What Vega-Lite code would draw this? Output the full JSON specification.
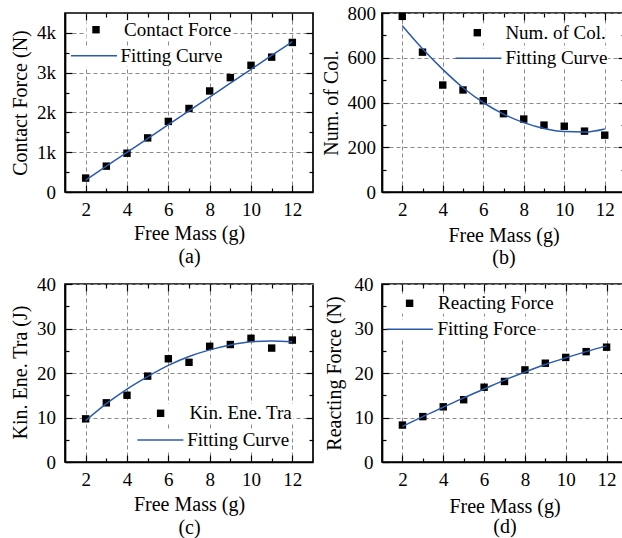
{
  "$schema": "https://vega.github.io/schema/vega-lite/v6.json",
  "background": "white",
  "padding": {"left": 9, "top": 3, "right": 0, "bottom": 0},
  "columns": 2,
  "spacing": {"column": 69, "row": 92},
  "bounds": "flush",
  "datasets": {
    "contact": [
      {"m": 2, "v": 350, "s": "Contact Force"}, {"m": 3, "v": 650, "s": "Contact Force"},
      {"m": 4, "v": 975, "s": "Contact Force"}, {"m": 5, "v": 1360, "s": "Contact Force"},
      {"m": 6, "v": 1775, "s": "Contact Force"}, {"m": 7, "v": 2100, "s": "Contact Force"},
      {"m": 8, "v": 2540, "s": "Contact Force"}, {"m": 9, "v": 2875, "s": "Contact Force"},
      {"m": 10, "v": 3185, "s": "Contact Force"}, {"m": 11, "v": 3390, "s": "Contact Force"},
      {"m": 12, "v": 3760, "s": "Contact Force"}
    ],
    "contactFit": [
      {"m": 2, "v": 300, "s": "Fitting Curve"}, {"m": 3, "v": 648, "s": "Fitting Curve"},
      {"m": 4, "v": 996, "s": "Fitting Curve"}, {"m": 5, "v": 1344, "s": "Fitting Curve"},
      {"m": 6, "v": 1692, "s": "Fitting Curve"}, {"m": 7, "v": 2040, "s": "Fitting Curve"},
      {"m": 8, "v": 2388, "s": "Fitting Curve"}, {"m": 9, "v": 2736, "s": "Fitting Curve"},
      {"m": 10, "v": 3084, "s": "Fitting Curve"}, {"m": 11, "v": 3432, "s": "Fitting Curve"},
      {"m": 12, "v": 3780, "s": "Fitting Curve"}
    ],
    "collisions": [
      {"m": 2, "v": 785, "s": "Num. of Col."}, {"m": 3, "v": 625, "s": "Num. of Col."},
      {"m": 4, "v": 478, "s": "Num. of Col."}, {"m": 5, "v": 456, "s": "Num. of Col."},
      {"m": 6, "v": 408, "s": "Num. of Col."}, {"m": 7, "v": 350, "s": "Num. of Col."},
      {"m": 8, "v": 326, "s": "Num. of Col."}, {"m": 9, "v": 299, "s": "Num. of Col."},
      {"m": 10, "v": 294, "s": "Num. of Col."}, {"m": 11, "v": 272, "s": "Num. of Col."},
      {"m": 12, "v": 254, "s": "Num. of Col."}
    ],
    "collisionsFit": [
      {"m": 2, "v": 743, "s": "Fitting Curve"}, {"m": 3, "v": 640, "s": "Fitting Curve"},
      {"m": 4, "v": 548, "s": "Fitting Curve"}, {"m": 5, "v": 466, "s": "Fitting Curve"},
      {"m": 6, "v": 400, "s": "Fitting Curve"}, {"m": 7, "v": 348, "s": "Fitting Curve"},
      {"m": 8, "v": 310, "s": "Fitting Curve"}, {"m": 9, "v": 284, "s": "Fitting Curve"},
      {"m": 10, "v": 270, "s": "Fitting Curve"}, {"m": 11, "v": 268, "s": "Fitting Curve"},
      {"m": 12, "v": 282, "s": "Fitting Curve"}
    ],
    "kinetic": [
      {"m": 2, "v": 9.7, "s": "Kin. Ene. Tra"}, {"m": 3, "v": 13.3, "s": "Kin. Ene. Tra"},
      {"m": 4, "v": 15.0, "s": "Kin. Ene. Tra"}, {"m": 5, "v": 19.3, "s": "Kin. Ene. Tra"},
      {"m": 6, "v": 23.2, "s": "Kin. Ene. Tra"}, {"m": 7, "v": 22.4, "s": "Kin. Ene. Tra"},
      {"m": 8, "v": 26.0, "s": "Kin. Ene. Tra"}, {"m": 9, "v": 26.4, "s": "Kin. Ene. Tra"},
      {"m": 10, "v": 27.8, "s": "Kin. Ene. Tra"}, {"m": 11, "v": 25.6, "s": "Kin. Ene. Tra"},
      {"m": 12, "v": 27.4, "s": "Kin. Ene. Tra"}
    ],
    "kineticFit": [
      {"m": 2, "v": 9.3, "s": "Fitting Curve"}, {"m": 3, "v": 13.1, "s": "Fitting Curve"},
      {"m": 4, "v": 16.4, "s": "Fitting Curve"}, {"m": 5, "v": 19.2, "s": "Fitting Curve"},
      {"m": 6, "v": 21.7, "s": "Fitting Curve"}, {"m": 7, "v": 23.7, "s": "Fitting Curve"},
      {"m": 8, "v": 25.2, "s": "Fitting Curve"}, {"m": 9, "v": 26.3, "s": "Fitting Curve"},
      {"m": 10, "v": 27.0, "s": "Fitting Curve"}, {"m": 11, "v": 27.2, "s": "Fitting Curve"},
      {"m": 12, "v": 27.0, "s": "Fitting Curve"}
    ],
    "reacting": [
      {"m": 2, "v": 8.3, "s": "Reacting Force"}, {"m": 3, "v": 10.2, "s": "Reacting Force"},
      {"m": 4, "v": 12.4, "s": "Reacting Force"}, {"m": 5, "v": 14.0, "s": "Reacting Force"},
      {"m": 6, "v": 16.8, "s": "Reacting Force"}, {"m": 7, "v": 18.1, "s": "Reacting Force"},
      {"m": 8, "v": 20.7, "s": "Reacting Force"}, {"m": 9, "v": 22.2, "s": "Reacting Force"},
      {"m": 10, "v": 23.5, "s": "Reacting Force"}, {"m": 11, "v": 24.8, "s": "Reacting Force"},
      {"m": 12, "v": 25.8, "s": "Reacting Force"}
    ],
    "reactingFit": [
      {"m": 2, "v": 8.0, "s": "Fitting Force"}, {"m": 3, "v": 10.2, "s": "Fitting Force"},
      {"m": 4, "v": 12.3, "s": "Fitting Force"}, {"m": 5, "v": 14.4, "s": "Fitting Force"},
      {"m": 6, "v": 16.4, "s": "Fitting Force"}, {"m": 7, "v": 18.4, "s": "Fitting Force"},
      {"m": 8, "v": 20.2, "s": "Fitting Force"}, {"m": 9, "v": 21.9, "s": "Fitting Force"},
      {"m": 10, "v": 23.4, "s": "Fitting Force"}, {"m": 11, "v": 24.8, "s": "Fitting Force"},
      {"m": 12, "v": 26.1, "s": "Fitting Force"}
    ]
  },
  "concat": [
    {
      "width": 248,
      "height": 179,
      "layer": [
        {
          "data": {"name": "contact"},
          "mark": {"type": "point", "shape": "square", "filled": true, "color": "black", "size": 55, "opacity": 1},
          "encoding": {
            "x": {"field": "m", "type": "quantitative", "scale": {"domain": [1, 13], "nice": false, "zero": false},
              "axis": {"orient": "bottom", "values": [2, 3, 4, 5, 6, 7, 8, 9, 10, 11, 12],
                "labelExpr": "datum.value % 2 === 0 ? datum.label : ''",
                "tickSize": {"condition": {"test": "datum.value % 2 === 0", "value": -7}, "value": -4},
                "grid": true, "gridOpacity": {"condition": {"test": "datum.value % 2 === 0", "value": 1}, "value": 0},
                "labelPadding": 15.4, "title": ["Free Mass (g)", "(a)"], "titleY": 41.3, "titleBaseline": "middle", "titleLineHeight": 23}},
            "y": {"field": "v", "type": "quantitative", "scale": {"domain": [0, 4500], "nice": false},
              "axis": {"orient": "left", "values": [0, 500, 1000, 1500, 2000, 2500, 3000, 3500, 4000],
                "labelExpr": "datum.value === 0 ? '0' : (datum.value % 1000 === 0 ? (datum.value / 1000) + 'k' : '')",
                "tickSize": {"condition": {"test": "datum.value % 1000 === 0", "value": -7}, "value": -4},
                "grid": true, "gridOpacity": {"condition": {"test": "datum.value % 1000 === 0", "value": 1}, "value": 0},
                "labelPadding": 16.5, "title": "Contact Force (N)", "titleX": -44.7, "titleY": 89.5, "titleBaseline": "middle"}},
            "shape": {"field": "s", "type": "nominal", "scale": {"range": ["square"]},
              "legend": {"title": null, "orient": "none", "legendX": 21.5, "legendY": 7.2, "symbolSize": 55, "symbolFillColor": "black", "symbolStrokeWidth": 0, "labelOffset": 18.6, "fillColor": "white", "padding": 0}}
          }
        },
        {
          "data": {"name": "contactFit"},
          "mark": {"type": "line", "strokeWidth": 1.5, "interpolate": "monotone"},
          "encoding": {
            "x": {"field": "m", "type": "quantitative",
              "axis": {"orient": "top", "values": [2, 3, 4, 5, 6, 7, 8, 9, 10, 11, 12], "labels": false, "grid": false, "domain": false, "title": null,
                "tickSize": {"condition": {"test": "datum.value % 2 === 0", "value": -7}, "value": -4}}},
            "y": {"field": "v", "type": "quantitative",
              "axis": {"orient": "right", "values": [500, 1000, 1500, 2000, 2500, 3000, 3500, 4000], "labels": false, "grid": false, "domain": false, "title": null,
                "tickSize": {"condition": {"test": "datum.value % 1000 === 0", "value": -7}, "value": -4}}},
            "stroke": {"field": "s", "type": "nominal", "scale": {"range": ["#2a5aab"]},
              "legend": {"title": null, "orient": "none", "legendX": 19.5, "legendY": 33.2, "symbolType": "M-5.75,0H5.75", "symbolSize": 64, "symbolStrokeWidth": 1.5, "labelOffset": 17, "fillColor": "white", "padding": 0}}
          }
        }
      ],
      "resolve": {"axis": {"x": "independent", "y": "independent"}}
    },
    {
      "width": 243,
      "height": 179,
      "layer": [
        {
          "data": {"name": "collisions"},
          "mark": {"type": "point", "shape": "square", "filled": true, "color": "black", "size": 55, "opacity": 1},
          "encoding": {
            "x": {"field": "m", "type": "quantitative", "scale": {"domain": [1, 13], "nice": false, "zero": false},
              "axis": {"orient": "bottom", "values": [2, 3, 4, 5, 6, 7, 8, 9, 10, 11, 12],
                "labelExpr": "datum.value % 2 === 0 ? datum.label : ''",
                "tickSize": {"condition": {"test": "datum.value % 2 === 0", "value": -7}, "value": -4},
                "grid": true, "gridOpacity": {"condition": {"test": "datum.value % 2 === 0", "value": 1}, "value": 0},
                "labelPadding": 15.4, "title": ["Free Mass (g)", "(b)"], "titleY": 43, "titleBaseline": "middle", "titleLineHeight": 22}},
            "y": {"field": "v", "type": "quantitative", "scale": {"domain": [0, 800], "nice": false},
              "axis": {"orient": "left", "values": [0, 100, 200, 300, 400, 500, 600, 700, 800],
                "labelExpr": "datum.value % 200 === 0 ? datum.label : ''",
                "tickSize": {"condition": {"test": "datum.value % 200 === 0", "value": -7}, "value": -4},
                "grid": true, "gridOpacity": {"condition": {"test": "datum.value % 200 === 0", "value": 1}, "value": 0},
                "labelPadding": 13.5, "title": "Num. of Col.", "titleX": -50.7, "titleY": 89.5, "titleBaseline": "middle"}},
            "shape": {"field": "s", "type": "nominal", "scale": {"range": ["square"]},
              "legend": {"title": null, "orient": "none", "legendX": 85.8, "legendY": 10.2, "symbolSize": 55, "symbolFillColor": "black", "symbolStrokeWidth": 0, "labelOffset": 18.6, "fillColor": "white", "padding": 0}}
          }
        },
        {
          "data": {"name": "collisionsFit"},
          "mark": {"type": "line", "strokeWidth": 1.5, "interpolate": "monotone"},
          "encoding": {
            "x": {"field": "m", "type": "quantitative",
              "axis": {"orient": "top", "values": [2, 3, 4, 5, 6, 7, 8, 9, 10, 11, 12], "labels": false, "grid": false, "domain": false, "title": null,
                "tickSize": {"condition": {"test": "datum.value % 2 === 0", "value": -7}, "value": -4}}},
            "y": {"field": "v", "type": "quantitative",
              "axis": {"orient": "right", "values": [100, 200, 300, 400, 500, 600, 700], "labels": false, "grid": false, "domain": false, "title": null,
                "tickSize": {"condition": {"test": "datum.value % 200 === 0", "value": -7}, "value": -4}}},
            "stroke": {"field": "s", "type": "nominal", "scale": {"range": ["#2a5aab"]},
              "legend": {"title": null, "orient": "none", "legendX": 86.9, "legendY": 35.8, "symbolType": "M-5.75,0H5.75", "symbolSize": 64, "symbolStrokeWidth": 1.5, "labelOffset": 17.6, "fillColor": "white", "padding": 0}}
          }
        }
      ],
      "resolve": {"axis": {"x": "independent", "y": "independent"}}
    },
    {
      "width": 248,
      "height": 178,
      "layer": [
        {
          "data": {"name": "kinetic"},
          "mark": {"type": "point", "shape": "square", "filled": true, "color": "black", "size": 55, "opacity": 1},
          "encoding": {
            "x": {"field": "m", "type": "quantitative", "scale": {"domain": [1, 13], "nice": false, "zero": false},
              "axis": {"orient": "bottom", "values": [2, 3, 4, 5, 6, 7, 8, 9, 10, 11, 12],
                "labelExpr": "datum.value % 2 === 0 ? datum.label : ''",
                "tickSize": {"condition": {"test": "datum.value % 2 === 0", "value": -7}, "value": -4},
                "grid": true, "gridOpacity": {"condition": {"test": "datum.value % 2 === 0", "value": 1}, "value": 0},
                "labelPadding": 15.4, "title": ["Free Mass (g)", "(c)"], "titleY": 42, "titleBaseline": "middle", "titleLineHeight": 23}},
            "y": {"field": "v", "type": "quantitative", "scale": {"domain": [0, 40], "nice": false},
              "axis": {"orient": "left", "values": [0, 5, 10, 15, 20, 25, 30, 35, 40],
                "labelExpr": "datum.value % 10 === 0 ? datum.label : ''",
                "tickSize": {"condition": {"test": "datum.value % 10 === 0", "value": -7}, "value": -4},
                "grid": true, "gridOpacity": {"condition": {"test": "datum.value % 10 === 0", "value": 1}, "value": 0},
                "labelPadding": 16.5, "title": "Kin. Ene. Tra (J)", "titleX": -44.7, "titleY": 88, "titleBaseline": "middle"}},
            "shape": {"field": "s", "type": "nominal", "scale": {"range": ["square"]},
              "legend": {"title": null, "orient": "none", "legendX": 86.1, "legendY": 119.8, "symbolSize": 55, "symbolFillColor": "black", "symbolStrokeWidth": 0, "labelOffset": 19.3, "fillColor": "white", "padding": 0}}
          }
        },
        {
          "data": {"name": "kineticFit"},
          "mark": {"type": "line", "strokeWidth": 1.5, "interpolate": "monotone"},
          "encoding": {
            "x": {"field": "m", "type": "quantitative",
              "axis": {"orient": "top", "values": [2, 3, 4, 5, 6, 7, 8, 9, 10, 11, 12], "labels": false, "grid": false, "domain": false, "title": null,
                "tickSize": {"condition": {"test": "datum.value % 2 === 0", "value": -7}, "value": -4}}},
            "y": {"field": "v", "type": "quantitative",
              "axis": {"orient": "right", "values": [5, 10, 15, 20, 25, 30, 35], "labels": false, "grid": false, "domain": false, "title": null,
                "tickSize": {"condition": {"test": "datum.value % 10 === 0", "value": -7}, "value": -4}}},
            "stroke": {"field": "s", "type": "nominal", "scale": {"range": ["#2a5aab"]},
              "legend": {"title": null, "orient": "none", "legendX": 85.9, "legendY": 146.5, "symbolType": "M-5.75,0H5.75", "symbolSize": 64, "symbolStrokeWidth": 1.5, "labelOffset": 17.3, "fillColor": "white", "padding": 0}}
          }
        }
      ],
      "resolve": {"axis": {"x": "independent", "y": "independent"}}
    },
    {
      "width": 245,
      "height": 178,
      "layer": [
        {
          "data": {"name": "reacting"},
          "mark": {"type": "point", "shape": "square", "filled": true, "color": "black", "size": 55, "opacity": 1},
          "encoding": {
            "x": {"field": "m", "type": "quantitative", "scale": {"domain": [1, 13], "nice": false, "zero": false},
              "axis": {"orient": "bottom", "values": [2, 3, 4, 5, 6, 7, 8, 9, 10, 11, 12],
                "labelExpr": "datum.value % 2 === 0 ? datum.label : ''",
                "tickSize": {"condition": {"test": "datum.value % 2 === 0", "value": -7}, "value": -4},
                "grid": true, "gridOpacity": {"condition": {"test": "datum.value % 2 === 0", "value": 1}, "value": 0},
                "labelPadding": 15.4, "title": ["Free Mass (g)", "(d)"], "titleY": 44, "titleBaseline": "middle", "titleLineHeight": 20}},
            "y": {"field": "v", "type": "quantitative", "scale": {"domain": [0, 40], "nice": false},
              "axis": {"orient": "left", "values": [0, 5, 10, 15, 20, 25, 30, 35, 40],
                "labelExpr": "datum.value % 10 === 0 ? datum.label : ''",
                "tickSize": {"condition": {"test": "datum.value % 10 === 0", "value": -7}, "value": -4},
                "grid": true, "gridOpacity": {"condition": {"test": "datum.value % 10 === 0", "value": 1}, "value": 0},
                "labelPadding": 16, "title": "Reacting Force (N)", "titleX": -47.3, "titleY": 89, "titleBaseline": "middle"}},
            "shape": {"field": "s", "type": "nominal", "scale": {"range": ["square"]},
              "legend": {"title": null, "orient": "none", "legendX": 18.1, "legendY": 9.8, "symbolSize": 55, "symbolFillColor": "black", "symbolStrokeWidth": 0, "labelOffset": 19, "fillColor": "white", "padding": 0}}
          }
        },
        {
          "data": {"name": "reactingFit"},
          "mark": {"type": "line", "strokeWidth": 1.5, "interpolate": "monotone"},
          "encoding": {
            "x": {"field": "m", "type": "quantitative",
              "axis": {"orient": "top", "values": [2, 3, 4, 5, 6, 7, 8, 9, 10, 11, 12], "labels": false, "grid": false, "domain": false, "title": null,
                "tickSize": {"condition": {"test": "datum.value % 2 === 0", "value": -7}, "value": -4}}},
            "y": {"field": "v", "type": "quantitative",
              "axis": {"orient": "right", "values": [5, 10, 15, 20, 25, 30, 35], "labels": false, "grid": false, "domain": false, "title": null,
                "tickSize": {"condition": {"test": "datum.value % 10 === 0", "value": -7}, "value": -4}}},
            "stroke": {"field": "s", "type": "nominal", "scale": {"range": ["#2a5aab"]},
              "legend": {"title": null, "orient": "none", "legendX": 18.4, "legendY": 35.8, "symbolType": "M-5.75,0H5.75", "symbolSize": 64, "symbolStrokeWidth": 1.5, "labelOffset": 18.1, "fillColor": "white", "padding": 0}}
          }
        }
      ],
      "resolve": {"axis": {"x": "independent", "y": "independent"}}
    }
  ],
  "resolve": {
    "scale": {"x": "independent", "y": "independent", "shape": "independent", "stroke": "independent"},
    "legend": {"shape": "independent", "stroke": "independent"}
  },
  "config": {
    "font": "Liberation Serif",
    "view": {"stroke": "black", "strokeWidth": 1.7},
    "axis": {
      "labelFont": "Liberation Serif", "labelFontSize": 19, "labelColor": "black",
      "titleFont": "Liberation Serif", "titleFontSize": 20, "titleFontWeight": "normal", "titleColor": "black",
      "domainColor": "black", "domainWidth": 1.7, "tickColor": "black", "tickWidth": 1.2,
      "gridColor": "#8a8a8a", "gridDash": [4, 3], "gridWidth": 1,
      "labelFlush": false, "labelOverlap": false, "labelBound": false
    },
    "legend": {"labelFont": "Liberation Serif", "labelFontSize": 19, "labelColor": "black", "labelLimit": 400}
  }
}
